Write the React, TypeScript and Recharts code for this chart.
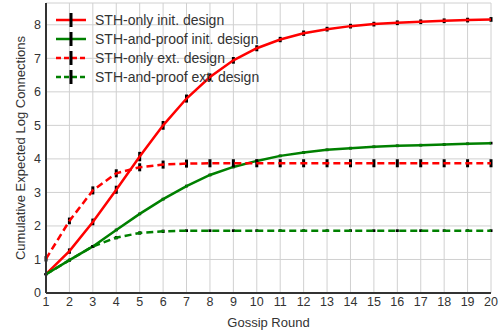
import React from "react";
import {
  LineChart,
  Line,
  XAxis,
  YAxis,
  CartesianGrid,
  ErrorBar,
} from "recharts";

const rounds = [1, 2, 3, 4, 5, 6, 7, 8, 9, 10, 11, 12, 13, 14, 15, 16, 17, 18, 19, 20];

const sthOnlyInit = [0.56, 1.25, 2.12, 3.08, 4.07, 5.0, 5.8, 6.44, 6.94, 7.3, 7.56, 7.75, 7.87, 7.96, 8.02, 8.06, 8.09, 8.12, 8.14, 8.16];
const sthProofInit = [0.56, 0.98, 1.39, 1.88, 2.36, 2.8, 3.19, 3.52, 3.76, 3.94, 4.09, 4.19, 4.27, 4.32, 4.36, 4.39, 4.41, 4.43, 4.45, 4.47];
const sthOnlyExt = [1.02, 2.15, 3.06, 3.57, 3.75, 3.83, 3.86, 3.87, 3.87, 3.87, 3.87, 3.87, 3.87, 3.87, 3.87, 3.87, 3.87, 3.87, 3.87, 3.87];
const sthProofExt = [0.56, 0.98, 1.39, 1.65, 1.79, 1.84, 1.86, 1.86, 1.86, 1.86, 1.86, 1.86, 1.86, 1.86, 1.86, 1.86, 1.86, 1.86, 1.86, 1.86];

const sthOnlyInitErr = [0.03, 0.08, 0.1, 0.12, 0.14, 0.13, 0.12, 0.11, 0.1, 0.09, 0.08, 0.08, 0.07, 0.07, 0.07, 0.07, 0.07, 0.07, 0.07, 0.07];
const sthProofInitErr = [0.03, 0.04, 0.04, 0.04, 0.04, 0.04, 0.04, 0.04, 0.04, 0.04, 0.04, 0.04, 0.04, 0.04, 0.04, 0.04, 0.04, 0.04, 0.04, 0.04];
const sthOnlyExtErr = [0.08, 0.1, 0.12, 0.12, 0.12, 0.12, 0.12, 0.12, 0.12, 0.12, 0.12, 0.12, 0.12, 0.12, 0.12, 0.12, 0.12, 0.12, 0.12, 0.12];
const sthProofExtErr = [0.03, 0.04, 0.04, 0.05, 0.05, 0.05, 0.04, 0.04, 0.04, 0.04, 0.04, 0.04, 0.04, 0.04, 0.04, 0.04, 0.04, 0.04, 0.04, 0.04];

const yTicks = [0, 1, 2, 3, 4, 5, 6, 7, 8];

const series = [
  { key: "a", name: "STH-only init. design", color: "#ff0000", dash: undefined },
  { key: "b", name: "STH-and-proof init. design", color: "#008000", dash: undefined },
  { key: "c", name: "STH-only ext. design", color: "#ff0000", dash: "7 4" },
  { key: "d", name: "STH-and-proof ext. design", color: "#008000", dash: "7 4" },
];

const data = rounds.map((r, i) => ({
  round: r,
  a: sthOnlyInit[i],
  aErr: sthOnlyInitErr[i],
  b: sthProofInit[i],
  bErr: sthProofInitErr[i],
  c: sthOnlyExt[i],
  cErr: sthOnlyExtErr[i],
  d: sthProofExt[i],
  dErr: sthProofExtErr[i],
}));

const FONT = "'Liberation Sans', Arial, sans-serif";
const TEXT = "#333333";

// legend drawn over the plot, top-left, like matplotlib's
const LegendBox = () => (
  <div style={{ position: "absolute", left: 56, top: 10.5, fontFamily: FONT, fontSize: 14, color: TEXT, pointerEvents: "none" }}>
    {series.map((s) => (
      <div key={s.key} style={{ display: "flex", alignItems: "center", height: 19 }}>
        <svg width={30} height={16} style={{ marginRight: 9 }}>
          <line x1={0} y1={8} x2={30} y2={8} stroke={s.color} strokeWidth={2.5} strokeDasharray={s.dash ? "5 3" : undefined} />
          <line x1={15} y1={1} x2={15} y2={15} stroke="#000" strokeWidth={3} />
        </svg>
        <span>{s.name}</span>
      </div>
    ))}
  </div>
);

const App = () => {
  return (
    <div style={{ position: "absolute", left: 0, top: 0, width: 503, height: 330 }}>
      <LineChart
        width={503}
        height={330}
        data={data}
        margin={{ top: 3, right: 12, left: 0, bottom: 0 }}
        style={{ fontFamily: FONT }}
      >
        <CartesianGrid stroke="#d0d0d0" strokeWidth={1} />
        <XAxis
          dataKey="round"
          type="number"
          domain={[1, 20]}
          ticks={rounds}
          interval={0}
          height={37}
          tickLine={false}
          tickSize={0}
          tickMargin={4}
          axisLine={{ stroke: "#333", strokeWidth: 2 }}
          tick={{ fill: TEXT, fontSize: 12.5 }}
          label={{ value: "Gossip Round", position: "insideBottom", offset: 0, dy: -3, fill: TEXT, fontSize: 13 }}
        />
        <XAxis xAxisId="top" orientation="top" dataKey="round" type="number" domain={[1, 20]} height={0} tick={false} tickLine={false} axisLine={{ stroke: "#333", strokeWidth: 2 }} />
        <YAxis
          type="number"
          domain={[0, 8.65]}
          ticks={yTicks}
          interval={0}
          width={46}
          tickLine={false}
          tickSize={0}
          tickMargin={5}
          axisLine={{ stroke: "#333", strokeWidth: 2 }}
          tick={{ fill: TEXT, fontSize: 12.5 }}
          label={{
            value: "Cumulative Expected Log Connections",
            angle: -90,
            position: "insideLeft",
            offset: 20,
            style: { textAnchor: "middle" },
            fill: TEXT,
            fontSize: 13,
          }}
        />
        <YAxis yAxisId="right" orientation="right" domain={[0, 8.65]} width={0} tick={false} tickLine={false} axisLine={{ stroke: "#333", strokeWidth: 2 }} />
        {series.map((s) => (
          <Line
            key={s.key}
            type="linear"
            dataKey={s.key}
            name={s.name}
            stroke={s.color}
            strokeWidth={2.5}
            strokeDasharray={s.dash}
            dot={false}
            activeDot={false}
            isAnimationActive={false}
          >
            <ErrorBar dataKey={s.key + "Err"} direction="y" width={0} stroke="#000" strokeWidth={3} />
          </Line>
        ))}
      </LineChart>
      <LegendBox />
    </div>
  );
};

export default App;
